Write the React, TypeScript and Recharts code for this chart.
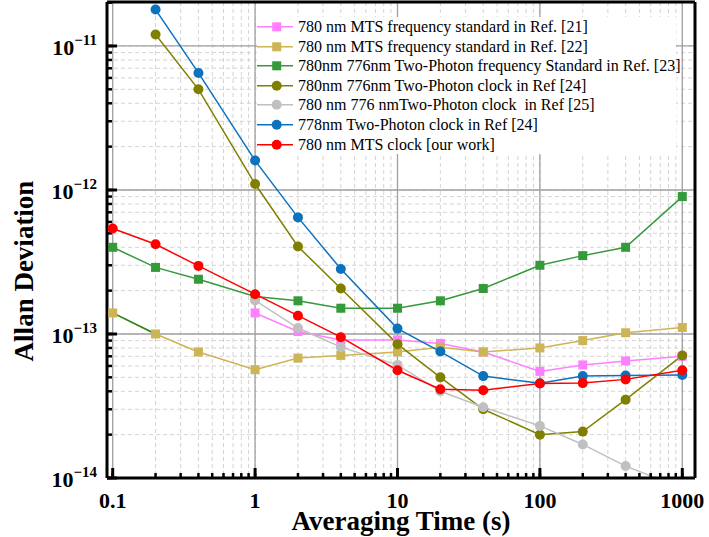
import React from 'react';
import { LineChart, Line, XAxis, YAxis, CartesianGrid, ReferenceLine, Legend } from 'recharts';

const tau = [0.1, 0.2, 0.4, 1, 2, 4, 10, 20, 40, 100, 200, 400, 1000];

const ref21 = [null, null, null, 1.4e-13, 1.04e-13, 9.1e-14, 9.1e-14, 8.6e-14, 7.5e-14, 5.5e-14, 6.1e-14, 6.5e-14, 7.0e-14];
const ref22 = [1.4e-13, 1.0e-13, 7.5e-14, 5.65e-14, 6.8e-14, 7.1e-14, 7.5e-14, 8.1e-14, 7.5e-14, 8.0e-14, 9.0e-14, 1.02e-13, 1.11e-13];
const ref23 = [4.0e-13, 2.9e-13, 2.4e-13, 1.82e-13, 1.7e-13, 1.51e-13, 1.51e-13, 1.7e-13, 2.07e-13, 3.0e-13, 3.5e-13, 4.0e-13, 9.0e-13];
const ref24a = [null, 1.2e-11, 5.0e-12, 1.1e-12, 4.05e-13, 2.07e-13, 8.5e-14, 5.0e-14, 3.0e-14, 2.0e-14, 2.1e-14, 3.5e-14, 7.1e-14];
const ref25 = [null, null, null, 1.71e-13, 1.1e-13, 8.1e-14, 6.1e-14, 4.0e-14, 3.1e-14, 2.3e-14, 1.71e-14, 1.21e-14, 8.5e-15];
const ref24b = [null, 1.79e-11, 6.5e-12, 1.6e-12, 6.45e-13, 2.83e-13, 1.09e-13, 7.55e-14, 5.1e-14, 4.55e-14, 5.1e-14, 5.15e-14, 5.2e-14];
const ours = [5.4e-13, 4.2e-13, 2.97e-13, 1.89e-13, 1.34e-13, 9.5e-14, 5.6e-14, 4.13e-14, 4.07e-14, 4.53e-14, 4.56e-14, 4.84e-14, 5.6e-14];

const xTicks = [0.1, 0.2, 0.3, 0.4, 0.5, 0.6, 0.7, 0.8, 0.9, 1, 2, 3, 4, 5, 6, 7, 8, 9, 10, 20, 30, 40, 50, 60, 70, 80, 90, 100, 200, 300, 400, 500, 600, 700, 800, 900, 1000];
const yTicks = [
  1e-14, 2e-14, 3e-14, 4e-14, 5e-14, 6e-14, 7e-14, 8e-14, 9e-14,
  1e-13, 2e-13, 3e-13, 4e-13, 5e-13, 6e-13, 7e-13, 8e-13, 9e-13,
  1e-12, 2e-12, 3e-12, 4e-12, 5e-12, 6e-12, 7e-12, 8e-12, 9e-12,
  1e-11, 2e-11,
];
const xMajor = [0.1, 1, 10, 100, 1000];
const yMajor = [1e-14, 1e-13, 1e-12, 1e-11];

const series = [
  { key: 'ref21', name: '780 nm MTS frequency standard in Ref. [21]', values: ref21, color: '#FF80FF', shape: 'square' },
  { key: 'ref22', name: '780 nm MTS frequency standard in Ref. [22]', values: ref22, color: '#CDB455', shape: 'square' },
  { key: 'ref23', name: '780nm 776nm Two-Photon frequency Standard in Ref. [23]', values: ref23, color: '#349A3A', shape: 'square' },
  { key: 'ref24a', name: '780nm 776nm Two-Photon clock in Ref [24]', values: ref24a, color: '#808000', shape: 'circle' },
  { key: 'ref25', name: '780 nm 776 nmTwo-Photon clock  in Ref [25]', values: ref25, color: '#C0C0C0', shape: 'circle' },
  { key: 'ref24b', name: '778nm Two-Photon clock in Ref [24]', values: ref24b, color: '#0B72BD', shape: 'circle' },
  { key: 'ours', name: '780 nm MTS clock [our work]', values: ours, color: '#FF0000', shape: 'circle' },
];

const data = tau.map((t, i) => {
  const row: any = { tau: t };
  series.forEach((s) => {
    row[s.key] = s.values[i];
  });
  row.seg = i < 2 ? ref22[i] : null;
  return row;
});

const SERIF = '"Liberation Serif", "Times New Roman", serif';

const CHART_W = 709;
const CHART_H = 537;
const MARGIN = { top: 1, right: 13, bottom: 0, left: 0 };
const Y_AXIS_W = 107;
const X_AXIS_H = 59;
const PLOT_W = CHART_W - MARGIN.left - MARGIN.right - Y_AXIS_W - 1;
const PLOT_H = CHART_H - MARGIN.top - MARGIN.bottom - X_AXIS_H - 1;

const xDomain = [0.0912, 1228];
const yDomain = [1e-14, 2.02e-11];

// major tick length (px) converted into log-axis factors so the ticks go through the scales
const MAJOR_LEN = 10;
const xTickFactor = Math.pow(10, (MAJOR_LEN * Math.log10(xDomain[1] / xDomain[0])) / PLOT_W);
const yTickFactor = Math.pow(10, (MAJOR_LEN * Math.log10(yDomain[1] / yDomain[0])) / PLOT_H);

const isMajor = (v: number) => {
  const l = Math.log10(v);
  return Math.abs(l - Math.round(l)) < 1e-6;
};

const XLabel = (props: any) => {
  const { x, y, payload } = props;
  if (!isMajor(payload.value)) return <g />;
  return (
    <text x={x} y={y + 30} textAnchor="middle" fontFamily={SERIF} fontWeight="bold" fontSize={22} fill="#000">
      {String(payload.value)}
    </text>
  );
};

const YLabel = (props: any) => {
  const { x, y, payload } = props;
  if (!isMajor(payload.value)) return <g />;
  const exp = Math.round(Math.log10(payload.value));
  return (
    <text x={x - 10} y={y + 9} textAnchor="end" fontFamily={SERIF} fontWeight="bold" fontSize={22} fill="#000">
      <tspan>10</tspan>
      <tspan fontSize={15} dy={-10}>{'\u2212' + Math.abs(exp)}</tspan>
    </text>
  );
};

const makeDot = (color: string, shape: string) => (props: any) => {
  const { cx, cy, index } = props;
  if (cx == null || cy == null || !isFinite(cx) || !isFinite(cy)) return <g key={'d' + index} />;
  if (shape === 'square') {
    return <rect key={'d' + index} x={cx - 4.5} y={cy - 4.5} width={9} height={9} fill={color} />;
  }
  return <circle key={'d' + index} cx={cx} cy={cy} r={5} fill={color} />;
};

const LegendBox = () => (
  <div style={{ background: '#fff', width: 419, height: 137 }}>
    {series.map((s) => (
      <div key={s.key} style={{ display: 'flex', alignItems: 'center', height: 19.6 }}>
        <svg width={41} height={19.6} style={{ display: 'block', flex: '0 0 auto' }}>
          <line x1={0} x2={36} y1={9.8} y2={9.8} stroke={s.color} strokeWidth={1.5} />
          {s.shape === 'square' ? (
            <rect x={15.2} y={5.3} width={9} height={9} fill={s.color} />
          ) : (
            <circle cx={19.7} cy={9.8} r={5} fill={s.color} />
          )}
        </svg>
        <span style={{ fontFamily: SERIF, fontSize: 16, whiteSpace: 'pre', color: '#000', lineHeight: '19.6px' }}>{s.name}</span>
      </div>
    ))}
  </div>
);

export default function App() {
  return (
    <div style={{ position: 'absolute', left: 0, top: 0, width: CHART_W, height: CHART_H, background: '#fff' }}>
      <LineChart width={CHART_W} height={CHART_H} data={data} margin={MARGIN}>
        <CartesianGrid stroke="#D4D4D4" strokeDasharray="4 3" strokeWidth={1} />
        <XAxis
          dataKey="tau"
          type="number"
          scale="log"
          domain={xDomain}
          allowDataOverflow
          ticks={xTicks}
          interval={0}
          tick={<XLabel />}
          tickLine={{ stroke: '#000', strokeWidth: 2.5 }}
          tickSize={-5}
          tickMargin={5}
          height={X_AXIS_H}
          axisLine={{ stroke: '#000', strokeWidth: 3 }}
          label={{ value: 'Averaging Time (s)', position: 'center', dy: 13, fontFamily: SERIF, fontWeight: 'bold', fontSize: 27, fill: '#000' }}
        />
        <XAxis
          xAxisId="top"
          orientation="top"
          dataKey="tau"
          type="number"
          scale="log"
          domain={xDomain}
          allowDataOverflow
          tick={false}
          tickLine={false}
          height={1}
          axisLine={{ stroke: '#000', strokeWidth: 3 }}
        />
        <YAxis
          type="number"
          scale="log"
          domain={yDomain}
          allowDataOverflow
          ticks={yTicks}
          interval={0}
          tick={<YLabel />}
          tickLine={{ stroke: '#000', strokeWidth: 2.5 }}
          tickSize={-5}
          tickMargin={5}
          width={Y_AXIS_W}
          axisLine={{ stroke: '#000', strokeWidth: 3 }}
          label={{ value: 'Allan Deviation', angle: -90, position: 'center', dx: -30, dy: 31, fontFamily: SERIF, fontWeight: 'bold', fontSize: 27, fill: '#000' }}
        />
        <YAxis
          yAxisId="right"
          orientation="right"
          type="number"
          scale="log"
          domain={yDomain}
          allowDataOverflow
          tick={false}
          tickLine={false}
          width={1}
          axisLine={{ stroke: '#000', strokeWidth: 3 }}
        />
        {xMajor.map((v) => (
          <ReferenceLine key={'vx' + v} x={v} stroke="#A0A0A0" strokeWidth={1.3} />
        ))}
        {yMajor.map((v) => (
          <ReferenceLine key={'hy' + v} y={v} stroke="#A0A0A0" strokeWidth={1.3} />
        ))}
        {xMajor.map((v) => (
          <ReferenceLine
            key={'tx' + v}
            segment={[{ x: v, y: yDomain[0] }, { x: v, y: yDomain[0] * yTickFactor }]}
            stroke="#000"
            strokeWidth={3}
            ifOverflow="visible"
          />
        ))}
        {yMajor.map((v) => (
          <ReferenceLine
            key={'ty' + v}
            segment={[{ x: xDomain[0], y: v }, { x: xDomain[0] * xTickFactor, y: v }]}
            stroke="#000"
            strokeWidth={3}
            ifOverflow="visible"
          />
        ))}
        {series.map((s) => (
          <Line
            key={s.key}
            dataKey={s.key}
            name={s.name}
            type="linear"
            stroke={s.color}
            strokeWidth={1.5}
            dot={makeDot(s.color, s.shape)}
            activeDot={false}
            isAnimationActive={false}
            legendType="none"
          />
        ))}
        <Line
          dataKey="seg"
          type="linear"
          stroke="#228B22"
          strokeWidth={1.5}
          dot={false}
          activeDot={false}
          isAnimationActive={false}
          legendType="none"
        />
        <Legend
          layout="horizontal"
          verticalAlign="middle"
          align="center"
          content={() => <LegendBox />}
          wrapperStyle={{ left: 257, top: 17, width: 419, height: 137 }}
        />
      </LineChart>
    </div>
  );
}
